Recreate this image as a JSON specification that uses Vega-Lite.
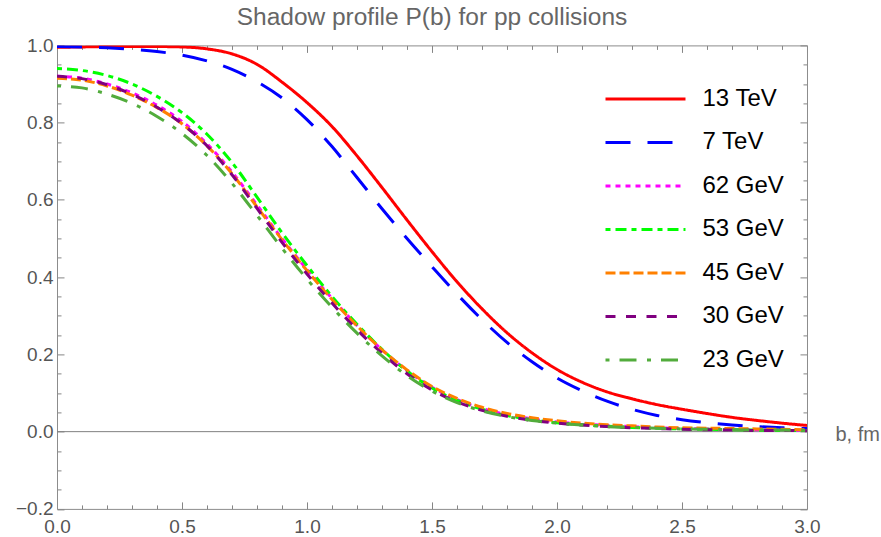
{
  "$schema": "https://vega.github.io/schema/vega-lite/v6.json",
  "description": "Shadow profile P(b) for pp collisions at several energies.",
  "width": 750,
  "height": 463.5,
  "autosize": {"type": "none"},
  "padding": {"left": 57, "top": 45.4, "right": 74, "bottom": 28},
  "background": "white",
  "config": {
    "view": {"stroke": null},
    "font": "Liberation Sans",
    "axis": {
      "grid": false,
      "ticks": true,
      "domainColor": "#8c8c8c",
      "tickColor": "#858585",
      "domainWidth": 1,
      "tickWidth": 1,
      "labelColor": "#555555",
      "labelFont": "Liberation Sans",
      "labelFontSize": 19,
      "labelOverlap": false,
      "labelFlush": false
    }
  },
  "title": {
    "text": "Shadow profile P(b) for pp collisions",
    "font": "Liberation Sans",
    "fontSize": 24.5,
    "fontWeight": "normal",
    "color": "#666666",
    "anchor": "middle",
    "offset": 6
  },
  "data": {
    "values": [
      {"s": "13 TeV", "b": 0.0, "P": 0.995}, {"s": "13 TeV", "b": 0.1, "P": 0.996}, {"s": "13 TeV", "b": 0.2, "P": 0.997}, {"s": "13 TeV", "b": 0.3, "P": 0.997}, {"s": "13 TeV", "b": 0.4, "P": 0.997}, {"s": "13 TeV", "b": 0.5, "P": 0.996}, {"s": "13 TeV", "b": 0.6, "P": 0.991}, {"s": "13 TeV", "b": 0.7, "P": 0.978}, {"s": "13 TeV", "b": 0.8, "P": 0.951}, {"s": "13 TeV", "b": 0.9, "P": 0.905}, {"s": "13 TeV", "b": 1.0, "P": 0.852}, {"s": "13 TeV", "b": 1.1, "P": 0.79}, {"s": "13 TeV", "b": 1.2, "P": 0.714}, {"s": "13 TeV", "b": 1.3, "P": 0.632}, {"s": "13 TeV", "b": 1.4, "P": 0.548}, {"s": "13 TeV", "b": 1.5, "P": 0.466}, {"s": "13 TeV", "b": 1.6, "P": 0.388}, {"s": "13 TeV", "b": 1.7, "P": 0.318}, {"s": "13 TeV", "b": 1.8, "P": 0.256}, {"s": "13 TeV", "b": 1.9, "P": 0.204}, {"s": "13 TeV", "b": 2.0, "P": 0.161}, {"s": "13 TeV", "b": 2.1, "P": 0.128}, {"s": "13 TeV", "b": 2.2, "P": 0.103}, {"s": "13 TeV", "b": 2.3, "P": 0.085}, {"s": "13 TeV", "b": 2.4, "P": 0.07}, {"s": "13 TeV", "b": 2.5, "P": 0.058}, {"s": "13 TeV", "b": 2.6, "P": 0.047}, {"s": "13 TeV", "b": 2.7, "P": 0.037}, {"s": "13 TeV", "b": 2.8, "P": 0.029}, {"s": "13 TeV", "b": 2.9, "P": 0.022}, {"s": "13 TeV", "b": 3.0, "P": 0.016},
      {"s": "7 TeV", "b": 0.0, "P": 0.997}, {"s": "7 TeV", "b": 0.1, "P": 0.996}, {"s": "7 TeV", "b": 0.2, "P": 0.994}, {"s": "7 TeV", "b": 0.3, "P": 0.99}, {"s": "7 TeV", "b": 0.4, "P": 0.984}, {"s": "7 TeV", "b": 0.5, "P": 0.975}, {"s": "7 TeV", "b": 0.6, "P": 0.96}, {"s": "7 TeV", "b": 0.7, "P": 0.938}, {"s": "7 TeV", "b": 0.8, "P": 0.906}, {"s": "7 TeV", "b": 0.9, "P": 0.864}, {"s": "7 TeV", "b": 1.0, "P": 0.808}, {"s": "7 TeV", "b": 1.1, "P": 0.738}, {"s": "7 TeV", "b": 1.2, "P": 0.658}, {"s": "7 TeV", "b": 1.3, "P": 0.577}, {"s": "7 TeV", "b": 1.4, "P": 0.5}, {"s": "7 TeV", "b": 1.5, "P": 0.427}, {"s": "7 TeV", "b": 1.6, "P": 0.356}, {"s": "7 TeV", "b": 1.7, "P": 0.29}, {"s": "7 TeV", "b": 1.8, "P": 0.231}, {"s": "7 TeV", "b": 1.9, "P": 0.181}, {"s": "7 TeV", "b": 2.0, "P": 0.139}, {"s": "7 TeV", "b": 2.1, "P": 0.106}, {"s": "7 TeV", "b": 2.2, "P": 0.079}, {"s": "7 TeV", "b": 2.3, "P": 0.058}, {"s": "7 TeV", "b": 2.4, "P": 0.042}, {"s": "7 TeV", "b": 2.5, "P": 0.031}, {"s": "7 TeV", "b": 2.6, "P": 0.023}, {"s": "7 TeV", "b": 2.7, "P": 0.017}, {"s": "7 TeV", "b": 2.8, "P": 0.013}, {"s": "7 TeV", "b": 2.9, "P": 0.01}, {"s": "7 TeV", "b": 3.0, "P": 0.008},
      {"s": "62 GeV", "b": 0.0, "P": 0.92}, {"s": "62 GeV", "b": 0.1, "P": 0.915}, {"s": "62 GeV", "b": 0.2, "P": 0.9}, {"s": "62 GeV", "b": 0.3, "P": 0.877}, {"s": "62 GeV", "b": 0.4, "P": 0.845}, {"s": "62 GeV", "b": 0.5, "P": 0.803}, {"s": "62 GeV", "b": 0.6, "P": 0.745}, {"s": "62 GeV", "b": 0.7, "P": 0.672}, {"s": "62 GeV", "b": 0.8, "P": 0.587}, {"s": "62 GeV", "b": 0.9, "P": 0.5}, {"s": "62 GeV", "b": 1.0, "P": 0.42}, {"s": "62 GeV", "b": 1.1, "P": 0.345}, {"s": "62 GeV", "b": 1.2, "P": 0.275}, {"s": "62 GeV", "b": 1.3, "P": 0.212}, {"s": "62 GeV", "b": 1.4, "P": 0.158}, {"s": "62 GeV", "b": 1.5, "P": 0.115}, {"s": "62 GeV", "b": 1.6, "P": 0.083}, {"s": "62 GeV", "b": 1.7, "P": 0.06}, {"s": "62 GeV", "b": 1.8, "P": 0.044}, {"s": "62 GeV", "b": 1.9, "P": 0.033}, {"s": "62 GeV", "b": 2.0, "P": 0.025}, {"s": "62 GeV", "b": 2.1, "P": 0.02}, {"s": "62 GeV", "b": 2.2, "P": 0.016}, {"s": "62 GeV", "b": 2.3, "P": 0.013}, {"s": "62 GeV", "b": 2.4, "P": 0.01}, {"s": "62 GeV", "b": 2.5, "P": 0.008}, {"s": "62 GeV", "b": 2.6, "P": 0.007}, {"s": "62 GeV", "b": 2.7, "P": 0.006}, {"s": "62 GeV", "b": 2.8, "P": 0.005}, {"s": "62 GeV", "b": 2.9, "P": 0.004}, {"s": "62 GeV", "b": 3.0, "P": 0.003},
      {"s": "53 GeV", "b": 0.0, "P": 0.94}, {"s": "53 GeV", "b": 0.1, "P": 0.935}, {"s": "53 GeV", "b": 0.2, "P": 0.922}, {"s": "53 GeV", "b": 0.3, "P": 0.9}, {"s": "53 GeV", "b": 0.4, "P": 0.868}, {"s": "53 GeV", "b": 0.5, "P": 0.826}, {"s": "53 GeV", "b": 0.6, "P": 0.77}, {"s": "53 GeV", "b": 0.7, "P": 0.697}, {"s": "53 GeV", "b": 0.8, "P": 0.607}, {"s": "53 GeV", "b": 0.9, "P": 0.515}, {"s": "53 GeV", "b": 1.0, "P": 0.43}, {"s": "53 GeV", "b": 1.1, "P": 0.35}, {"s": "53 GeV", "b": 1.2, "P": 0.278}, {"s": "53 GeV", "b": 1.3, "P": 0.213}, {"s": "53 GeV", "b": 1.4, "P": 0.157}, {"s": "53 GeV", "b": 1.5, "P": 0.113}, {"s": "53 GeV", "b": 1.6, "P": 0.081}, {"s": "53 GeV", "b": 1.7, "P": 0.058}, {"s": "53 GeV", "b": 1.8, "P": 0.042}, {"s": "53 GeV", "b": 1.9, "P": 0.031}, {"s": "53 GeV", "b": 2.0, "P": 0.023}, {"s": "53 GeV", "b": 2.1, "P": 0.018}, {"s": "53 GeV", "b": 2.2, "P": 0.014}, {"s": "53 GeV", "b": 2.3, "P": 0.011}, {"s": "53 GeV", "b": 2.4, "P": 0.009}, {"s": "53 GeV", "b": 2.5, "P": 0.007}, {"s": "53 GeV", "b": 2.6, "P": 0.006}, {"s": "53 GeV", "b": 2.7, "P": 0.005}, {"s": "53 GeV", "b": 2.8, "P": 0.004}, {"s": "53 GeV", "b": 2.9, "P": 0.003}, {"s": "53 GeV", "b": 3.0, "P": 0.003},
      {"s": "45 GeV", "b": 0.0, "P": 0.915}, {"s": "45 GeV", "b": 0.1, "P": 0.91}, {"s": "45 GeV", "b": 0.2, "P": 0.895}, {"s": "45 GeV", "b": 0.3, "P": 0.871}, {"s": "45 GeV", "b": 0.4, "P": 0.839}, {"s": "45 GeV", "b": 0.5, "P": 0.797}, {"s": "45 GeV", "b": 0.6, "P": 0.74}, {"s": "45 GeV", "b": 0.7, "P": 0.668}, {"s": "45 GeV", "b": 0.8, "P": 0.582}, {"s": "45 GeV", "b": 0.9, "P": 0.497}, {"s": "45 GeV", "b": 1.0, "P": 0.417}, {"s": "45 GeV", "b": 1.1, "P": 0.342}, {"s": "45 GeV", "b": 1.2, "P": 0.274}, {"s": "45 GeV", "b": 1.3, "P": 0.212}, {"s": "45 GeV", "b": 1.4, "P": 0.16}, {"s": "45 GeV", "b": 1.5, "P": 0.117}, {"s": "45 GeV", "b": 1.6, "P": 0.086}, {"s": "45 GeV", "b": 1.7, "P": 0.063}, {"s": "45 GeV", "b": 1.8, "P": 0.047}, {"s": "45 GeV", "b": 1.9, "P": 0.036}, {"s": "45 GeV", "b": 2.0, "P": 0.028}, {"s": "45 GeV", "b": 2.1, "P": 0.022}, {"s": "45 GeV", "b": 2.2, "P": 0.018}, {"s": "45 GeV", "b": 2.3, "P": 0.015}, {"s": "45 GeV", "b": 2.4, "P": 0.012}, {"s": "45 GeV", "b": 2.5, "P": 0.01}, {"s": "45 GeV", "b": 2.6, "P": 0.009}, {"s": "45 GeV", "b": 2.7, "P": 0.008}, {"s": "45 GeV", "b": 2.8, "P": 0.007}, {"s": "45 GeV", "b": 2.9, "P": 0.006}, {"s": "45 GeV", "b": 3.0, "P": 0.005},
      {"s": "30 GeV", "b": 0.0, "P": 0.92}, {"s": "30 GeV", "b": 0.1, "P": 0.914}, {"s": "30 GeV", "b": 0.2, "P": 0.898}, {"s": "30 GeV", "b": 0.3, "P": 0.873}, {"s": "30 GeV", "b": 0.4, "P": 0.84}, {"s": "30 GeV", "b": 0.5, "P": 0.797}, {"s": "30 GeV", "b": 0.6, "P": 0.74}, {"s": "30 GeV", "b": 0.7, "P": 0.665}, {"s": "30 GeV", "b": 0.8, "P": 0.578}, {"s": "30 GeV", "b": 0.9, "P": 0.49}, {"s": "30 GeV", "b": 1.0, "P": 0.408}, {"s": "30 GeV", "b": 1.1, "P": 0.333}, {"s": "30 GeV", "b": 1.2, "P": 0.264}, {"s": "30 GeV", "b": 1.3, "P": 0.203}, {"s": "30 GeV", "b": 1.4, "P": 0.15}, {"s": "30 GeV", "b": 1.5, "P": 0.108}, {"s": "30 GeV", "b": 1.6, "P": 0.077}, {"s": "30 GeV", "b": 1.7, "P": 0.055}, {"s": "30 GeV", "b": 1.8, "P": 0.04}, {"s": "30 GeV", "b": 1.9, "P": 0.029}, {"s": "30 GeV", "b": 2.0, "P": 0.022}, {"s": "30 GeV", "b": 2.1, "P": 0.017}, {"s": "30 GeV", "b": 2.2, "P": 0.013}, {"s": "30 GeV", "b": 2.3, "P": 0.01}, {"s": "30 GeV", "b": 2.4, "P": 0.008}, {"s": "30 GeV", "b": 2.5, "P": 0.006}, {"s": "30 GeV", "b": 2.6, "P": 0.005}, {"s": "30 GeV", "b": 2.7, "P": 0.004}, {"s": "30 GeV", "b": 2.8, "P": 0.003}, {"s": "30 GeV", "b": 2.9, "P": 0.003}, {"s": "30 GeV", "b": 3.0, "P": 0.002},
      {"s": "23 GeV", "b": 0.0, "P": 0.895}, {"s": "23 GeV", "b": 0.1, "P": 0.89}, {"s": "23 GeV", "b": 0.2, "P": 0.874}, {"s": "23 GeV", "b": 0.3, "P": 0.85}, {"s": "23 GeV", "b": 0.4, "P": 0.816}, {"s": "23 GeV", "b": 0.5, "P": 0.772}, {"s": "23 GeV", "b": 0.6, "P": 0.715}, {"s": "23 GeV", "b": 0.7, "P": 0.643}, {"s": "23 GeV", "b": 0.8, "P": 0.56}, {"s": "23 GeV", "b": 0.9, "P": 0.475}, {"s": "23 GeV", "b": 1.0, "P": 0.395}, {"s": "23 GeV", "b": 1.1, "P": 0.322}, {"s": "23 GeV", "b": 1.2, "P": 0.255}, {"s": "23 GeV", "b": 1.3, "P": 0.196}, {"s": "23 GeV", "b": 1.4, "P": 0.145}, {"s": "23 GeV", "b": 1.5, "P": 0.105}, {"s": "23 GeV", "b": 1.6, "P": 0.075}, {"s": "23 GeV", "b": 1.7, "P": 0.054}, {"s": "23 GeV", "b": 1.8, "P": 0.039}, {"s": "23 GeV", "b": 1.9, "P": 0.029}, {"s": "23 GeV", "b": 2.0, "P": 0.022}, {"s": "23 GeV", "b": 2.1, "P": 0.017}, {"s": "23 GeV", "b": 2.2, "P": 0.013}, {"s": "23 GeV", "b": 2.3, "P": 0.011}, {"s": "23 GeV", "b": 2.4, "P": 0.009}, {"s": "23 GeV", "b": 2.5, "P": 0.007}, {"s": "23 GeV", "b": 2.6, "P": 0.006}, {"s": "23 GeV", "b": 2.7, "P": 0.005}, {"s": "23 GeV", "b": 2.8, "P": 0.004}, {"s": "23 GeV", "b": 2.9, "P": 0.004}, {"s": "23 GeV", "b": 3.0, "P": 0.003}
    ]
  },
  "layer": [
    {
      "data": {"values": [{}]},
      "mark": {"type": "rule", "color": "#808080", "strokeWidth": 1},
      "encoding": {
        "x": {
          "datum": 0,
          "type": "quantitative",
          "scale": {"domain": [0, 3], "nice": false, "zero": false},
          "axis": {
            "orient": "top",
            "offset": -463.5,
            "title": null,
            "labels": false,
            "domain": false,
            "ticks": true,
            "tickCount": 30,
            "tickSize": {"condition": {"test": "abs(datum.value*2-round(datum.value*2))<0.001", "value": 7}, "value": 4}
          }
        },
        "x2": {"datum": 3},
        "y": {
          "datum": 0,
          "type": "quantitative",
          "scale": {"domain": [-0.2, 1], "nice": false, "zero": false},
          "axis": {
            "orient": "right",
            "offset": -750,
            "title": null,
            "labels": false,
            "domain": false,
            "ticks": true,
            "tickCount": 24,
            "tickSize": {"condition": {"test": "abs(datum.value*5-round(datum.value*5))<0.001", "value": 7}, "value": 4}
          }
        }
      }
    },
    {
      "data": {"values": [{}]},
      "mark": {"type": "point", "opacity": 0, "size": 1},
      "encoding": {
        "x": {
          "datum": 0,
          "type": "quantitative",
          "scale": {"domain": [0, 3], "nice": false, "zero": false},
          "axis": {
            "orient": "bottom",
            "offset": -463.5,
            "title": null,
            "labels": false,
            "domain": true,
            "ticks": true,
            "tickCount": 30,
            "tickSize": {"condition": {"test": "abs(datum.value*2-round(datum.value*2))<0.001", "value": 7}, "value": 4}
          }
        },
        "y": {
          "datum": 0,
          "type": "quantitative",
          "scale": {"domain": [-0.2, 1], "nice": false, "zero": false},
          "axis": {
            "orient": "left",
            "offset": -750,
            "title": null,
            "labels": false,
            "domain": true,
            "ticks": true,
            "tickCount": 24,
            "tickSize": {"condition": {"test": "abs(datum.value*5-round(datum.value*5))<0.001", "value": 7}, "value": 4}
          }
        }
      }
    },
    {
      "mark": {"type": "line", "strokeWidth": 3, "interpolate": "monotone", "clip": true},
      "encoding": {
        "x": {
          "field": "b",
          "type": "quantitative",
          "scale": {"domain": [0, 3], "nice": false, "zero": false},
          "axis": {
            "orient": "bottom",
            "ticks": false,
            "values": [0, 0.5, 1.0, 1.5, 2.0, 2.5, 3.0],
            "format": ".1f",
            "labelPadding": 9,
            "title": "b, fm",
            "titleX": 778,
            "titleY": -74,
            "titleAlign": "left",
            "titleBaseline": "middle",
            "titleAngle": 0,
            "titleFont": "Liberation Sans",
            "titleFontSize": 20,
            "titleFontWeight": "normal",
            "titleColor": "#666666"
          }
        },
        "y": {
          "field": "P",
          "type": "quantitative",
          "scale": {"domain": [-0.2, 1], "nice": false, "zero": false},
          "axis": {
            "orient": "left",
            "title": null,
            "ticks": false,
            "values": [-0.2, 0, 0.2, 0.4, 0.6, 0.8, 1.0],
            "format": ".1f",
            "labelPadding": 4
          }
        },
        "color": {
          "field": "s",
          "type": "nominal",
          "scale": {
            "domain": ["13 TeV", "7 TeV", "62 GeV", "53 GeV", "45 GeV", "30 GeV", "23 GeV"],
            "range": ["#ff0000", "#0000ff", "#ff00ff", "#00ff00", "#ff8000", "#800080", "#52ac3c"]
          },
          "legend": {
            "title": null,
            "orient": "none",
            "legendX": 576.5,
            "legendY": 41.5,
            "padding": 0,
            "symbolType": "M-4,0H4",
            "symbolSize": 400,
            "symbolStrokeWidth": 3,
            "labelFont": "Liberation Sans",
            "labelFontSize": 24,
            "labelColor": "#000000",
            "labelOffset": 45,
            "rowPadding": 19.5
          }
        },
        "strokeDash": {
          "field": "s",
          "type": "nominal",
          "scale": {
            "domain": ["13 TeV", "7 TeV", "62 GeV", "53 GeV", "45 GeV", "30 GeV", "23 GeV"],
            "range": [[1, 0], [25, 17], [5, 5], [5, 5, 11, 5], [10, 4], [10, 10.5], [4, 10, 17, 10.5]]
          },
          "legend": {
            "title": null,
            "orient": "none",
            "legendX": 576.5,
            "legendY": 41.5,
            "padding": 0,
            "symbolType": "M-4,0H4",
            "symbolSize": 400,
            "symbolStrokeWidth": 3,
            "labelFont": "Liberation Sans",
            "labelFontSize": 24,
            "labelColor": "#000000",
            "labelOffset": 45,
            "rowPadding": 19.5
          }
        }
      }
    }
  ],
  "resolve": {"axis": {"x": "independent", "y": "independent"}}
}
